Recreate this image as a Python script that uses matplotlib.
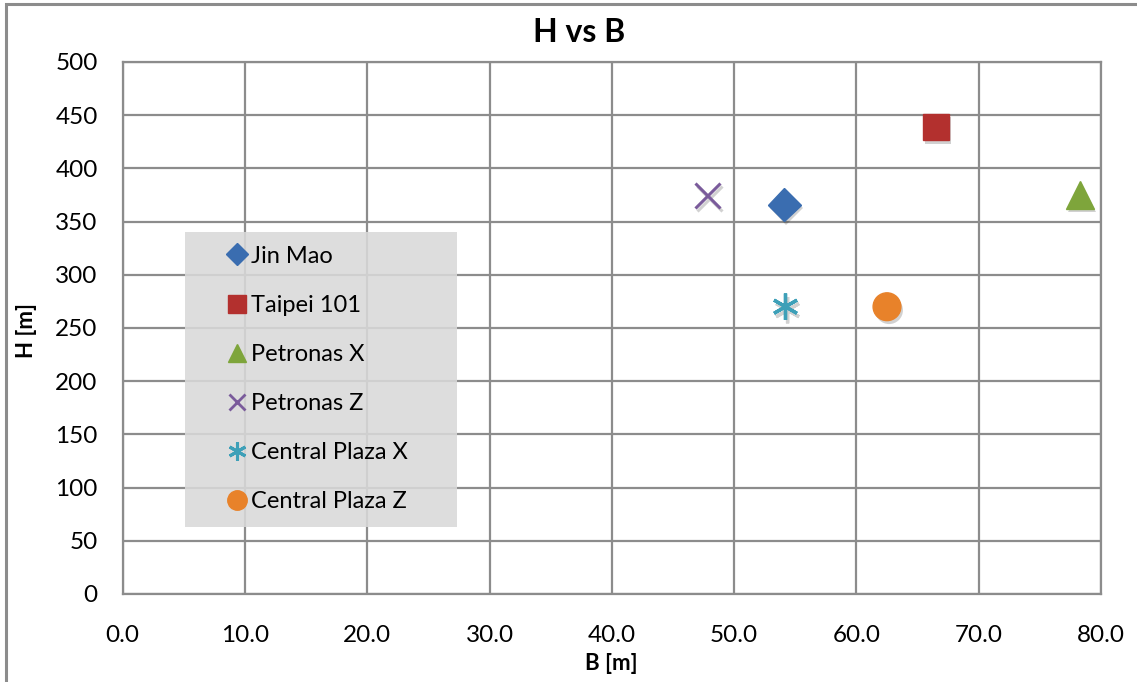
import matplotlib
matplotlib.use("Agg")
import matplotlib.pyplot as plt
from matplotlib.patches import Rectangle
from matplotlib.lines import Line2D
import matplotlib.patheffects as pe

plt.rcParams['font.family'] = ['Lato', 'DejaVu Sans']

names = ["Jin Mao", "Taipei 101", "Petronas X", "Petronas Z", "Central Plaza X", "Central Plaza Z"]
b_vals = [54.1, 66.5, 78.3, 47.8, 54.2, 62.5]
h_vals = [366, 439, 375, 375, 270, 270]
markers = ["D", "s", "^", "x", "*", "o"]
colors = ["#3a6db0", "#b3302e", "#7ea53b", "#7a5b9b", "#3ea0b8", "#e8822a"]
xticks = [0, 10, 20, 30, 40, 50, 60, 70, 80]
yticks = [0, 50, 100, 150, 200, 250, 300, 350, 400, 450, 500]

W, H = 1137, 682
fig = plt.figure(figsize=(W / 100, H / 100), dpi=100)
fig.patch.set_facecolor("white")

# outer chart border
fig.add_artist(Rectangle((6 / W, -0.1), 1.2, 1 - 4 / H + 0.1, transform=fig.transFigure,
                         fill=False, edgecolor="#8c8c8c", linewidth=2.2))

ax = fig.add_axes([122.7 / W, 1 - 594 / H, (1101 - 122.7) / W, (594 - 62) / H])
ax.set_xlim(0, 80)
ax.set_ylim(0, 500)
ax.set_xticks(xticks)
ax.set_yticks(yticks)
ax.set_xticklabels([f"{v:.1f}" for v in xticks], fontsize=17.5)
ax.set_yticklabels([str(v) for v in yticks], fontsize=17.5)
ax.tick_params(axis='x', length=0, pad=22)
ax.tick_params(axis='y', length=0, pad=18)
ax.grid(True, color="#8c8c8c", linewidth=1.6)
ax.set_axisbelow(True)
for s in ax.spines.values():
    s.set_color("#8c8c8c")
    s.set_linewidth(1.6)

shadow = [pe.SimplePatchShadow(offset=(1.5, -2.5), shadow_rgbFace="#000000", alpha=0.18), pe.Normal()]
sizes = [17, 19, 20, 18, 19, 20]
for n, bx, hy, m, c, sz in zip(names, b_vals, h_vals, markers, colors, sizes):
    if m in ("x",):
        ax.plot([bx], [hy], linestyle="none", marker=m, color=c, markersize=sz, mew=2.2, zorder=5,
                path_effects=[pe.SimpleLineShadow(offset=(1.5, -2.5), alpha=0.18), pe.Normal()])
    elif m == "*":
        ax.plot([bx], [hy], linestyle="none", marker=(6, 2, 0), color=c, markersize=sz, mew=2.4, zorder=5,
                path_effects=[pe.SimpleLineShadow(offset=(1.5, -2.5), alpha=0.18), pe.Normal()])
    else:
        ax.plot([bx], [hy], linestyle="none", marker=m, markerfacecolor=c, markeredgecolor=c,
                markersize=sz, zorder=5, path_effects=shadow)

# legend background
lx0, lx1 = (185 - 122.7) / 978.3, (457 - 122.7) / 978.3
ly0, ly1 = (594 - 527) / 532, (594 - 232) / 532
ax.add_patch(Rectangle((lx0, ly0), lx1 - lx0, ly1 - ly0, transform=ax.transAxes,
                       facecolor="#d9d9d9", alpha=0.88, edgecolor="none", zorder=3))

handles = []
for n, m, c in zip(names, markers, colors):
    if m == "x":
        h = Line2D([], [], linestyle="none", marker="x", color=c, markersize=12, mew=2)
    elif m == "*":
        h = Line2D([], [], linestyle="none", marker=(6, 2, 0), color=c, markersize=13, mew=2.2)
    else:
        h = Line2D([], [], linestyle="none", marker=m, markerfacecolor=c, markeredgecolor=c,
                   markersize={"D": 11, "s": 13, "^": 13, "o": 14}[m])
    handles.append(h)
leg = ax.legend(handles, names, loc="upper left", bbox_to_anchor=(lx0 + 0.034, ly1 - 0.008),
                frameon=False, fontsize=17, handlelength=0.8, handletextpad=0.2,
                labelspacing=1.19, borderaxespad=0, borderpad=0.4)
leg.set_zorder(6)

fig.text(579 / W, 1 - 33 / H, "H vs B", ha="center", va="center", fontsize=23, fontweight="bold")
fig.text(611.8 / W, 1 - 663 / H, "B [m]", ha="center", va="center", fontsize=16, fontweight="bold")
fig.text(27 / W, 1 - 330 / H, "H [m]", ha="center", va="center", rotation=90, fontsize=16, fontweight="bold")

fig.savefig("out.png", dpi=100)
